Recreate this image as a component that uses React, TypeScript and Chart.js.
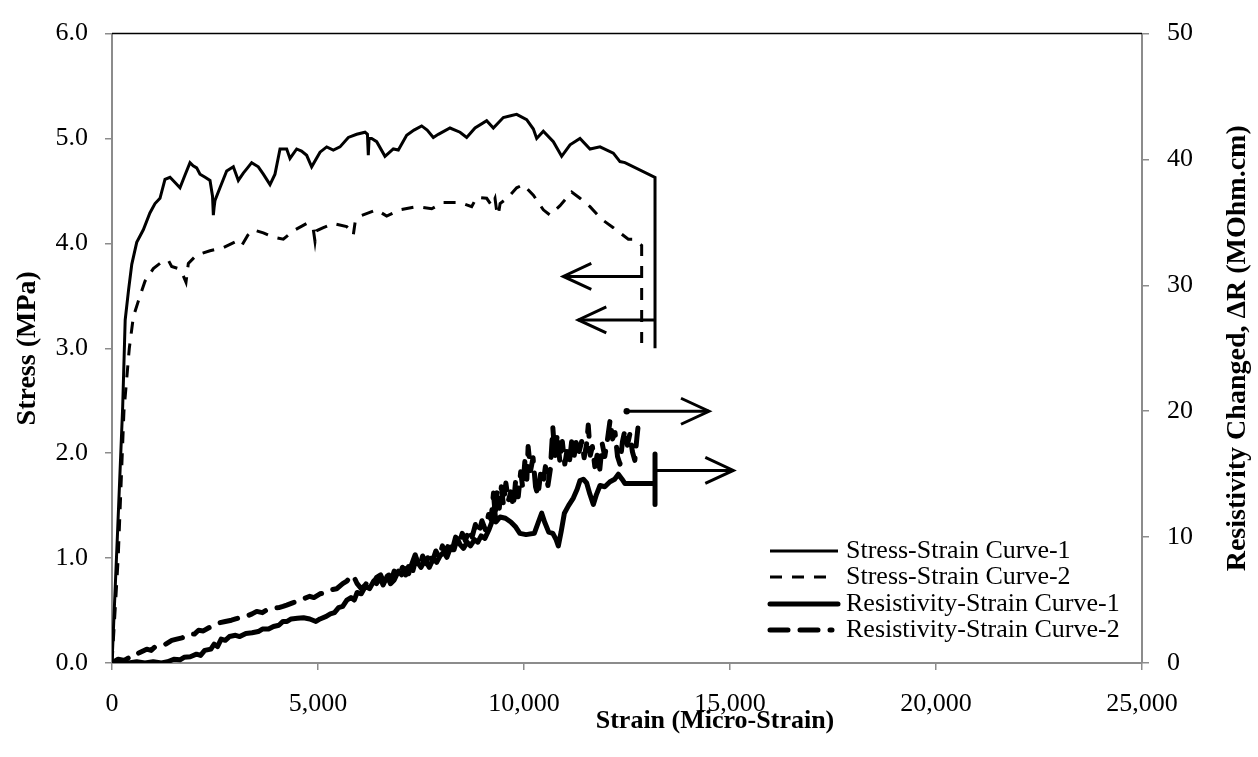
import React, { useEffect, useRef } from "react";
import { Chart, registerables } from "chart.js";

Chart.register(...registerables);

// ---------- DATA ----------
const xTickValues = [0, 5000, 10000, 15000, 20000, 25000];
const stressTickValues = [0, 1, 2, 3, 4, 5, 6];
const resTickValues = [0, 10, 20, 30, 40, 50];

const seriesLabels = [
  "Stress-Strain Curve-1",
  "Stress-Strain Curve-2",
  "Resistivity-Strain Curve-1",
  "Resistivity-Strain Curve-2",
];

// [strain, stress MPa]
const stressCurve1: number[][] = [
  [0, 0], [130, 1.2], [260, 2.45], [320, 3.27], [400, 3.55], [480, 3.8], [600, 4.01], [760, 4.13],
  [920, 4.29], [1044, 4.38], [1165, 4.43], [1286, 4.61], [1408, 4.63], [1530, 4.58], [1650, 4.53],
  [1770, 4.65], [1893, 4.77], [1970, 4.74], [2055, 4.72], [2136, 4.66], [2260, 4.63], [2379, 4.6],
  [2440, 4.45], [2460, 4.27], [2480, 4.35], [2500, 4.41], [2621, 4.53], [2783, 4.69], [2945, 4.73],
  [3066, 4.6], [3187, 4.67], [3290, 4.72], [3390, 4.77], [3551, 4.73], [3673, 4.66], [3835, 4.56],
  [3956, 4.66], [4078, 4.9], [4240, 4.9], [4320, 4.81], [4482, 4.9], [4600, 4.88], [4725, 4.84],
  [4846, 4.73], [5049, 4.87], [5211, 4.92], [5372, 4.89], [5534, 4.92], [5736, 5.01], [5939, 5.04],
  [6141, 5.06], [6200, 5.04], [6221, 4.84], [6240, 5.0], [6302, 5.0], [6424, 4.97], [6626, 4.83],
  [6828, 4.9], [6950, 4.89], [7152, 5.03], [7330, 5.08], [7516, 5.12], [7650, 5.08], [7799, 5.01],
  [7920, 5.04], [8204, 5.1], [8447, 5.06], [8609, 5.01], [8811, 5.1], [9094, 5.17], [9256, 5.1],
  [9498, 5.2], [9700, 5.22], [9822, 5.23], [10065, 5.18], [10227, 5.09], [10308, 5.0], [10469, 5.07],
  [10712, 4.97], [10914, 4.83], [11117, 4.94], [11359, 5.0], [11602, 4.9], [11845, 4.92], [12168, 4.86],
  [12330, 4.78], [12451, 4.77], [13180, 4.63], [13180, 3.0],
];

const stressCurve2: number[][] = [
  [0, 0], [150, 1.0], [290, 2.4], [420, 3.0], [518, 3.3], [639, 3.45], [801, 3.64], [1003, 3.76],
  [1165, 3.81], [1367, 3.84], [1448, 3.78], [1610, 3.76], [1700, 3.72], [1796, 3.63], [1853, 3.81],
  [2055, 3.89], [2379, 3.93], [2702, 3.96], [3026, 4.02], [3148, 3.98], [3300, 4.08], [3430, 4.13],
  [3673, 4.1], [3915, 4.06], [4158, 4.04], [4401, 4.12], [4725, 4.19], [4880, 4.15], [4927, 4.02],
  [4960, 4.12], [5130, 4.15], [5372, 4.19], [5696, 4.16], [5800, 4.12], [5857, 4.08], [5900, 4.2],
  [6019, 4.26], [6424, 4.32], [6667, 4.26], [6990, 4.32], [7395, 4.35], [7759, 4.33], [8042, 4.39],
  [8447, 4.39], [8730, 4.35], [8851, 4.44], [9094, 4.43], [9216, 4.36], [9296, 4.43], [9340, 4.3],
  [9377, 4.27], [9420, 4.38], [9620, 4.44], [9822, 4.53], [9984, 4.56], [10227, 4.46], [10469, 4.32],
  [10631, 4.27], [10874, 4.36], [11157, 4.49], [11359, 4.43], [11602, 4.35], [11885, 4.23],
  [12168, 4.15], [12532, 4.04], [12653, 4.04], [12856, 3.98], [12856, 3.05],
];

// [strain, resistivity change MOhm.cm]
const resCurve1: number[][] = [
  [0, 0], [200, 0.15], [400, 0], [600, 0.1], [800, 0], [1000, 0.1], [1200, 0], [1350, 0.1], [1500, 0.3],
  [1650, 0.25], [1750, 0.45], [1900, 0.5], [2050, 0.7], [2150, 0.6], [2250, 1.0], [2400, 1.1],
  [2480, 1.5], [2560, 1.3], [2650, 1.9], [2750, 1.8], [2850, 2.1], [3000, 2.2], [3100, 2.1],
  [3250, 2.35], [3400, 2.4], [3550, 2.5], [3650, 2.7], [3800, 2.7], [3920, 2.9], [4050, 3.0],
  [4150, 3.3], [4250, 3.3], [4350, 3.5], [4500, 3.55], [4650, 3.6], [4800, 3.5], [4950, 3.3],
  [5050, 3.5], [5200, 3.7], [5300, 3.9], [5400, 4.0], [5500, 4.4], [5600, 4.5], [5700, 5.0],
  [5800, 5.2], [5880, 5.0], [5950, 5.6], [6050, 5.5], [6150, 6.1], [6250, 5.9], [6350, 6.5],
  [6420, 6.3], [6500, 6.8], [6580, 6.2], [6680, 6.9], [6760, 6.3], [6850, 6.6], [6950, 7.3],
  [7030, 7.0], [7120, 7.5], [7200, 7.1], [7280, 7.9], [7360, 8.6], [7420, 8.0], [7500, 7.6],
  [7600, 8.2], [7700, 7.6], [7800, 8.3], [7880, 8.0], [7960, 8.5], [8050, 8.8], [8130, 8.4],
  [8220, 9.2], [8300, 9.0], [8380, 9.9], [8450, 9.4], [8530, 9.1], [8620, 9.6], [8700, 9.3],
  [8800, 9.8], [8880, 9.6], [8960, 10.1], [9050, 9.9], [9150, 10.6], [9230, 11.3], [9280, 12.4],
  [9320, 11.2], [9420, 11.6], [9550, 11.5], [9680, 11.2], [9800, 10.8], [9900, 10.3], [10050, 10.2],
  [10250, 10.3], [10350, 11.2], [10430, 11.9], [10500, 11.2], [10600, 10.4], [10700, 10.3],
  [10780, 9.8], [10833, 9.3], [10900, 10.4], [10980, 11.9], [11080, 12.5], [11197, 13.1],
  [11290, 13.8], [11359, 14.5], [11440, 14.6], [11521, 14.3], [11600, 13.4], [11683, 12.6],
  [11760, 13.4], [11845, 14.1], [11960, 14.0], [12087, 14.4], [12200, 14.6], [12290, 15.0],
  [12380, 14.6], [12451, 14.25], [13180, 14.25], [13180, 16.6], [13180, 12.6],
];

const resCurve2: number[][] = [
  [0, 0], [150, 0.3], [300, 0.2], [450, 0.5], [518, 0.5], [650, 0.8], [842, 1.1], [950, 1.0],
  [1050, 1.3], [1165, 1.4], [1300, 1.5], [1450, 1.8], [1570, 1.9], [1700, 2.0], [1893, 2.3],
  [2000, 2.3], [2100, 2.6], [2217, 2.55], [2350, 2.8], [2500, 3.0], [2621, 3.2], [2750, 3.3],
  [2900, 3.4], [3000, 3.5], [3107, 3.6], [3250, 3.7], [3400, 3.9], [3512, 4.1], [3650, 4.0],
  [3800, 4.3], [3915, 4.35], [4050, 4.4], [4150, 4.5], [4240, 4.6], [4400, 4.8], [4500, 4.9],
  [4643, 5.1], [4800, 5.3], [4900, 5.2], [5049, 5.5], [5200, 5.6], [5300, 5.8], [5453, 5.9],
  [5600, 6.3], [5700, 6.5], [5800, 6.9], [5857, 6.95], [5950, 6.3], [6050, 5.9], [6150, 6.2],
  [6250, 6.7], [6350, 6.4], [6424, 6.8], [6520, 7.0], [6600, 6.4], [6700, 7.1], [6780, 6.6],
  [6850, 7.3], [6950, 6.9], [7050, 7.6], [7130, 7.0], [7220, 7.9], [7300, 7.3], [7380, 8.3],
  [7460, 7.6], [7540, 8.5], [7620, 7.9], [7700, 8.8], [7780, 8.1], [7860, 8.9], [7940, 8.4],
  [8020, 9.3], [8100, 8.7], [8180, 9.6], [8260, 9.0], [8340, 10.0], [8420, 9.4], [8500, 10.3],
  [8580, 9.7], [8660, 10.6], [8740, 10.0], [8820, 11.0], [8900, 10.3], [8980, 11.3], [9060, 10.6],
  [9140, 11.8], [9200, 11.4], [9260, 13.5], [9300, 11.8], [9350, 13.8], [9400, 12.3], [9450, 14.0],
  [9500, 12.6], [9560, 14.3], [9620, 12.9], [9680, 13.6], [9740, 12.4], [9800, 14.6], [9860, 13.2],
  [9920, 15.2], [9970, 13.9], [10020, 16.0], [10070, 14.6], [10100, 17.2], [10160, 15.3],
  [10220, 16.3], [10280, 14.0], [10340, 13.3], [10400, 15.0], [10460, 14.2], [10520, 15.6],
  [10580, 14.1], [10640, 15.4], [10700, 18.7], [10750, 16.4], [10810, 18.2], [10870, 16.0],
  [10930, 17.6], [10990, 15.8], [11040, 16.8], [11100, 15.9], [11160, 17.7], [11220, 16.5],
  [11280, 17.9], [11340, 16.8], [11400, 17.6], [11460, 16.3], [11520, 17.4], [11560, 18.9],
  [11610, 16.5], [11660, 17.2], [11720, 15.6], [11780, 16.6], [11840, 15.4], [11900, 17.4],
  [11960, 16.4], [12020, 17.6], [12090, 19.3], [12150, 17.8], [12210, 18.3], [12270, 16.4],
  [12330, 15.8], [12390, 17.6], [12450, 18.5], [12510, 17.3], [12570, 18.2], [12630, 16.8],
  [12690, 16.1], [12740, 17.9], [12770, 18.8],
];

// Annotation arrows: [fromStrain, toStrain, value]
const stressArrows: number[][] = [
  [12864, 10954, 3.685],
  [13180, 11318, 3.27],
];
const resArrows: number[][] = [
  [12493, 14490, 20.0],
  [13180, 15080, 15.3],
];

// ---------- STYLE ----------
const FONT = "'Liberation Serif', 'Times New Roman', serif";
const AXIS_GRAY = "#8c8c8c";

const toPoints = (arr: number[][]) => arr.map(([x, y]) => ({ x, y }));

const drawArrow = (ctx: CanvasRenderingContext2D, x1: number, x2: number, y: number) => {
  const dir = Math.sign(x2 - x1);
  ctx.beginPath();
  ctx.moveTo(x1, y);
  ctx.lineTo(x2, y);
  ctx.stroke();
  ctx.beginPath();
  ctx.moveTo(x2 - dir * 28, y - 13);
  ctx.lineTo(x2, y);
  ctx.lineTo(x2 - dir * 28, y + 13);
  ctx.stroke();
};

const legendEnds = [838, 834, 838, 832];

const overlayPlugin = {
  id: "overlay",
  afterDatasetsDraw(chart: any) {
    const { ctx, chartArea, scales } = chart;
    const xs = scales.x;
    const ys = scales.y;
    const yr = scales.y1;
    ctx.save();

    // top border
    ctx.strokeStyle = "#000";
    ctx.lineWidth = 1.5;
    ctx.beginPath();
    ctx.moveTo(chartArea.left, chartArea.top);
    ctx.lineTo(chartArea.right, chartArea.top);
    ctx.stroke();

    // arrows
    ctx.lineWidth = 3;
    ctx.lineCap = "butt";
    ctx.lineJoin = "miter";
    ctx.setLineDash([]);
    stressArrows.forEach(([a, b, v]) => {
      drawArrow(ctx, xs.getPixelForValue(a), xs.getPixelForValue(b), ys.getPixelForValue(v));
    });
    resArrows.forEach(([a, b, v]) => {
      drawArrow(ctx, xs.getPixelForValue(a), xs.getPixelForValue(b), yr.getPixelForValue(v));
    });
    ctx.fillStyle = "#000";
    ctx.beginPath();
    ctx.arc(xs.getPixelForValue(resArrows[0][0]), yr.getPixelForValue(resArrows[0][2]), 3.2, 0, Math.PI * 2);
    ctx.fill();

    // legend
    const rowsY = [551, 577, 604, 630];
    chart.data.datasets.forEach((ds: any, i: number) => {
      const y = rowsY[i];
      ctx.save();
      ctx.strokeStyle = ds.borderColor;
      ctx.lineWidth = ds.borderWidth;
      ctx.lineCap = ds.borderCapStyle || "butt";
      ctx.setLineDash(ds.borderDash || []);
      ctx.beginPath();
      ctx.moveTo(770, y);
      ctx.lineTo(legendEnds[i], y);
      ctx.stroke();
      ctx.restore();
      ctx.fillStyle = "#000";
      ctx.font = `26px ${FONT}`;
      ctx.textAlign = "left";
      ctx.textBaseline = "middle";
      ctx.fillText(ds.label, 846, y);
    });

    // axis titles
    ctx.fillStyle = "#000";
    ctx.textAlign = "center";
    ctx.textBaseline = "middle";
    const cy = (chartArea.top + chartArea.bottom) / 2;
    ctx.font = `bold 28px ${FONT}`;
    ctx.save();
    ctx.translate(28, cy);
    ctx.rotate(-Math.PI / 2);
    ctx.fillText("Stress (MPa)", 0, 0);
    ctx.restore();

    ctx.save();
    ctx.translate(1238, cy);
    ctx.rotate(-Math.PI / 2);
    ctx.fillText("Resistivity Changed, ΔR (MOhm.cm)", 0, 0);
    ctx.restore();

    ctx.font = `bold 26px ${FONT}`;
    ctx.fillText("Strain (Micro-Strain)", 715, 721);

    ctx.restore();
  },
};

export default function App() {
  const canvasRef = useRef<HTMLCanvasElement | null>(null);

  useEffect(() => {
    if (!canvasRef.current) return;
    const tickFont = { family: FONT, size: 26 };
    const axisGrid = { drawOnChartArea: false, drawTicks: true, tickLength: 7, color: AXIS_GRAY, lineWidth: 1.5 };
    const axisBorder = { display: true, color: AXIS_GRAY, width: 2 };
    const chart = new Chart(canvasRef.current, {
      type: "line",
      data: {
        datasets: [
          {
            label: seriesLabels[0],
            data: toPoints(stressCurve1),
            yAxisID: "y",
            borderColor: "#000",
            borderWidth: 3,
            borderDash: [],
            borderCapStyle: "butt",
            pointRadius: 0,
            tension: 0,
          },
          {
            label: seriesLabels[1],
            data: toPoints(stressCurve2),
            yAxisID: "y",
            borderColor: "#000",
            borderWidth: 3,
            borderDash: [12, 10],
            borderCapStyle: "butt",
            pointRadius: 0,
            tension: 0,
          },
          {
            label: seriesLabels[2],
            data: toPoints(resCurve1),
            yAxisID: "y1",
            borderColor: "#000",
            borderWidth: 5,
            borderDash: [],
            borderCapStyle: "round",
            borderJoinStyle: "round",
            pointRadius: 0,
            tension: 0,
          },
          {
            label: seriesLabels[3],
            data: toPoints(resCurve2),
            yAxisID: "y1",
            borderColor: "#000",
            borderWidth: 5,
            borderDash: [18, 12],
            borderCapStyle: "round",
            borderJoinStyle: "round",
            pointRadius: 0,
            tension: 0,
          },
        ] as any,
      },
      options: {
        animation: false,
        responsive: true,
        maintainAspectRatio: false,
        parsing: false as any,
        layout: { padding: { top: 15, left: 0, right: 0, bottom: 0 } },
        plugins: {
          legend: { display: false },
          tooltip: { enabled: false },
          title: { display: false },
        },
        scales: {
          x: {
            type: "linear",
            position: "bottom",
            min: 0,
            max: 25000,
            afterBuildTicks: (s: any) => {
              s.ticks = xTickValues.map((v) => ({ value: v }));
            },
            afterFit: (s: any) => {
              s.height = 94;
            },
            ticks: {
              font: tickFont,
              color: "#000",
              padding: 19,
              maxRotation: 0,
              autoSkip: false,
              callback: (v: any) => Number(v).toLocaleString("en-US"),
            },
            grid: axisGrid,
            border: axisBorder,
            title: { display: false },
          },
          y: {
            type: "linear",
            position: "left",
            min: 0,
            max: 6,
            afterBuildTicks: (s: any) => {
              s.ticks = stressTickValues.map((v) => ({ value: v }));
            },
            afterFit: (s: any) => {
              s.width = 112;
            },
            ticks: {
              font: tickFont,
              color: "#000",
              padding: 17,
              callback: (v: any) => Number(v).toFixed(1),
            },
            grid: axisGrid,
            border: axisBorder,
            title: { display: false },
          },
          y1: {
            type: "linear",
            position: "right",
            min: 0,
            max: 50,
            afterBuildTicks: (s: any) => {
              s.ticks = resTickValues.map((v) => ({ value: v }));
            },
            afterFit: (s: any) => {
              s.width = 116;
            },
            ticks: {
              font: tickFont,
              color: "#000",
              padding: 18,
              callback: (v: any) => String(v),
            },
            grid: axisGrid,
            border: axisBorder,
            title: { display: false },
          },
        },
      } as any,
      plugins: [overlayPlugin],
    });
    return () => chart.destroy();
  }, []);

  return (
    <div style={{ position: "fixed", left: 0, top: 0, width: 1258, height: 757, background: "#fff" }}>
      <canvas ref={canvasRef} />
    </div>
  );
}
